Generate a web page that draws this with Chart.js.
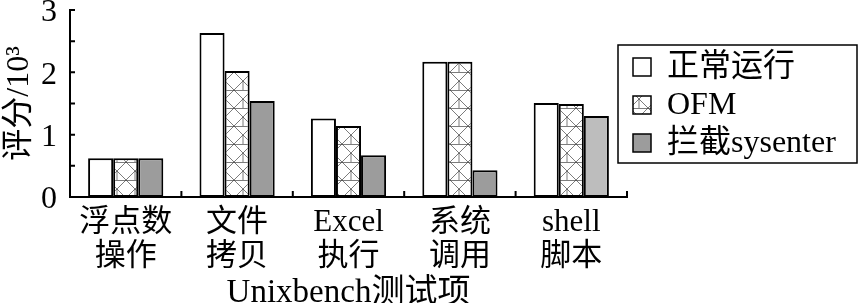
<!DOCTYPE html>
<html>
<head>
<meta charset="utf-8">
<script src="https://cdn.jsdelivr.net/npm/chart.js@4"></script>
<style>
  body { margin: 0; background: #fff; }
  #wrap { width: 862px; height: 303px; }
</style>
</head>
<body>
<div id="wrap"><canvas id="chart" width="862" height="303"></canvas></div>
<script>
const categories = [["浮点数", "操作"], ["文件", "拷贝"], ["Excel", "执行"], ["系统", "调用"], ["shell", "脚本"]];
const seriesNames = ["正常运行", "OFM", "拦截sysenter"];
const normalRun = [0.62, 2.63, 1.26, 2.17, 1.51];
const ofm = [0.62, 2.02, 1.14, 2.17, 1.49];
const sysenter = [0.62, 1.54, 0.67, 0.43, 1.30];
const yTicks = [0, 0.5, 1, 1.5, 2, 2.5, 3];

const FONT = "'Liberation Serif', 'Noto Sans CJK SC', serif";

// hatch pattern for the OFM bars
function makeHatch() {
  const c = document.createElement("canvas");
  c.width = 18; c.height = 18;
  const g = c.getContext("2d");
  g.fillStyle = "#fff";
  g.fillRect(0, 0, 18, 18);
  g.strokeStyle = "#444";
  g.lineWidth = 0.7;
  g.beginPath();
  g.moveTo(0, 0.5); g.lineTo(18, 0.5);
  g.moveTo(0, 0); g.lineTo(18, 18);
  g.moveTo(18, 0); g.lineTo(0, 18);
  g.moveTo(9, 9); g.lineTo(9, 18);
  g.stroke();
  return g.createPattern(c, "repeat");
}

const ctx = document.getElementById("chart").getContext("2d");
const hatch = makeHatch();
const grayFill = ["#9c9c9c", "#9c9c9c", "#9c9c9c", "#9c9c9c", "#bdbdbd"];

// inward ticks on both axes + legend box
const axisExtras = {
  id: "axisExtras",
  afterDraw(chart) {
    const c = chart.ctx;
    const x = chart.scales.x, y = chart.scales.y;
    const area = chart.chartArea;
    c.save();
    c.strokeStyle = "#000";
    c.lineWidth = 2;
    c.beginPath();
    yTicks.forEach(v => {
      if (v === 0) return;
      const py = y.getPixelForValue(v);
      c.moveTo(area.left, py); c.lineTo(area.left + 5, py);
    });
    for (let i = 0; i < categories.length; i++) {
      const px = i < categories.length - 1
        ? (x.getPixelForValue(i) + x.getPixelForValue(i + 1)) / 2
        : area.right;
      c.moveTo(px, area.bottom); c.lineTo(px, area.bottom - 6);
    }
    c.stroke();

    // legend
    const lx = 618, ly = 45, lw = 239, lh = 118;
    c.fillStyle = "#fff";
    c.fillRect(lx, ly, lw, lh);
    c.lineWidth = 1.5;
    c.strokeRect(lx, ly, lw, lh);
    const fills = ["#fff", hatch, "#9c9c9c"];
    c.font = "32px " + FONT;
    c.textBaseline = "middle";
    seriesNames.forEach((name, i) => {
      const cy = ly + 22 + i * 38;
      c.fillStyle = fills[i];
      c.fillRect(633, cy - 9, 18, 18);
      c.lineWidth = 1.5;
      c.strokeRect(633, cy - 9, 18, 18);
      c.fillStyle = "#000";
      c.fillText(name, 667, cy + 1);
    });
    c.restore();
  }
};

new Chart(ctx, {
  type: "bar",
  data: {
    labels: categories,
    datasets: [
      { label: seriesNames[0], data: normalRun, backgroundColor: "#fff" },
      { label: seriesNames[1], data: ofm, backgroundColor: hatch },
      { label: seriesNames[2], data: sysenter, backgroundColor: grayFill }
    ].map(d => ({ ...d, borderColor: "#000", borderWidth: 2, borderSkipped: false,
      barPercentage: 1, categoryPercentage: 0.675 }))
  },
  options: {
    responsive: false,
    animation: false,
    layout: { padding: { left: 0, right: 235, top: 10, bottom: 0 } },
    plugins: { legend: { display: false }, tooltip: { enabled: false } },
    scales: {
      x: {
        grid: { display: false },
        border: { color: "#000", width: 2 },
        ticks: { color: "#000", font: { family: FONT, size: 31, lineHeight: 1.1 }, padding: 1, maxRotation: 0 },
        title: { display: true, text: "Unixbench测试项", color: "#000",
          font: { family: FONT, size: 33, lineHeight: 0.6 }, padding: { top: 0, bottom: 0 } },
        afterFit(s) { s.height = 106; s.paddingLeft = 0; s.paddingRight = 0; }
      },
      y: {
        min: 0, max: 3,
        grid: { display: false, drawTicks: false },
        border: { color: "#000", width: 2 },
        ticks: {
          stepSize: 0.5, padding: 13, color: "#000", labelOffset: 3,
          font: { family: FONT, size: 32 },
          callback: v => Number.isInteger(v) ? String(v) : ""
        },
        title: { display: true, text: "评分/10³", color: "#000",
          font: { family: FONT, size: 32, lineHeight: 1.2 }, padding: { top: 0, bottom: 4 } },
        afterFit(s) { s.width = 70; s.paddingTop = 0; s.paddingBottom = 0; }
      }
    }
  },
  plugins: [axisExtras]
});
</script>
</body>
</html>
